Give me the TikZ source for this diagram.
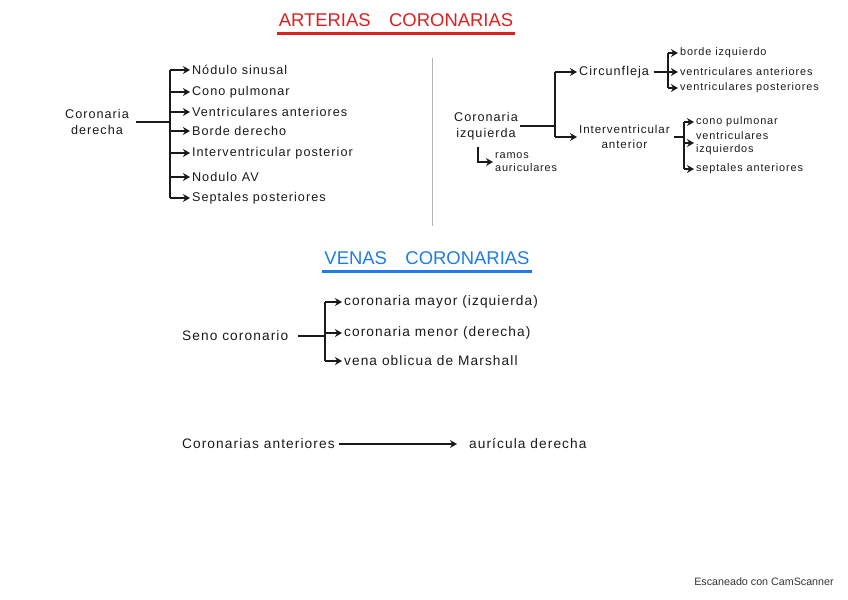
\documentclass[tikz,border=0pt]{standalone}
\usepackage{fontspec}
\setmainfont[LetterSpace=8]{Liberation Sans}
\newfontfamily\plainfont{Liberation Sans}
\usetikzlibrary{positioning,arrows.meta}
\definecolor{titlered}{HTML}{DC1F1F}
\definecolor{titleblue}{HTML}{1F7BE6}
\definecolor{inkblack}{HTML}{1A1A1A}
\definecolor{divgray}{HTML}{B4B4B4}
\definecolor{scangray}{HTML}{333333}

\begin{document}
\begin{tikzpicture}[x=0.02cm, y=-0.02cm,
    every node/.style={font=\fontsize{7.2}{9}\selectfont, text=inkblack, inner sep=1pt},
    leaf/.style={anchor=west},
    small/.style={font=\fontsize{6.2}{7.2}\selectfont, anchor=west},
    vein/.style={font=\fontsize{7.8}{9.5}\selectfont, anchor=west},
    stack/.style={align=center},
    titletxt/.style={font=\plainfont\fontsize{10.5}{13}\selectfont},
    branch/.style={draw=inkblack, line width=1.4pt},
    arr/.style={branch, -{Stealth[length=4pt,width=4.5pt]}}
  ]
  \useasboundingbox (0,0) rectangle (848,599);

  % arterias
  \node[titletxt, text=titlered] (arttitle) at (396,20) {ARTERIAS\quad CORONARIAS};
  \draw[titlered, line width=1.5pt]
    ([yshift=-0.1cm]arttitle.south west) -- ([yshift=-0.1cm]arttitle.south east);
  \draw[divgray, thin] (432,58) -- (432,226);

  % coronaria derecha
  \node[stack] (cder) at (97,122) {Coronaria\\derecha};
  \coordinate (cderbar) at (170,122);
  \node[leaf] (d1) at (190,70) {Nódulo sinusal};
  \node[leaf] (d2) at (190,92) {Cono pulmonar};
  \node[leaf] (d3) at (190,112) {Ventriculares anteriores};
  \node[leaf] (d4) at (190,131) {Borde derecho};
  \node[leaf] (d5) at (190,153) {Interventricular posterior};
  \node[leaf] (d6) at (190,177) {Nodulo AV};
  \node[leaf] (d7) at (190,198) {Septales posteriores};
  \draw[branch] ([xshift=0.1cm]cder.east) -- (cderbar |- cder.east);
  \draw[branch] (cderbar |- d1.west) -- (cderbar |- d7.west);
  \draw[arr] (cderbar |- d1.west) -- (d1.west);
  \draw[arr] (cderbar |- d2.west) -- (d2.west);
  \draw[arr] (cderbar |- d3.west) -- (d3.west);
  \draw[arr] (cderbar |- d4.west) -- (d4.west);
  \draw[arr] (cderbar |- d5.west) -- (d5.west);
  \draw[arr] (cderbar |- d6.west) -- (d6.west);
  \draw[arr] (cderbar |- d7.west) -- (d7.west);

  % coronaria izquierda
  \node[stack] (cizq) at (486,126) {Coronaria\\izquierda};
  \coordinate (cizqbar) at (555,124);
  \node[leaf] (circ) at (577,72) {Circunfleja};
  \node[leaf, align=center, font=\fontsize{6.6}{8.4}\selectfont] (iva) at (577,137) {Interventricular\\anterior};
  \draw[branch] (cizq.east) -- (cizqbar |- cizq.east);
  \draw[branch] (cizqbar |- circ.west) -- (cizqbar |- iva.west);
  \draw[arr] (cizqbar |- circ.west) -- (circ.west);
  \draw[arr] (cizqbar |- iva.west) -- (iva.west);
  \node[small, align=left] (ramos) at (493,162) {ramos\\auriculares};
  \draw[arr] ([xshift=-0.16cm, yshift=-0.1cm]cizq.south) |- (ramos.west);

  % circunfleja
  \coordinate (circbar) at (668,72);
  \node[small] (c1) at (678,53) {borde izquierdo};
  \node[small] (c2) at (678,72) {ventriculares anteriores};
  \node[small] (c3) at (678,88) {ventriculares posteriores};
  \draw[branch] ([xshift=0.05cm]circ.east) -- (circbar);
  \draw[branch] (circbar |- c1.west) -- (circbar |- c3.west);
  \draw[arr] (circbar |- c1.west) -- (c1.west);
  \draw[arr] (circbar |- c2.west) -- (c2.west);
  \draw[arr] (circbar |- c3.west) -- (c3.west);

  % interventricular anterior
  \coordinate (ivabar) at (684,140);
  \node[small] (a1) at (694,122) {cono pulmonar};
  \node[small, align=left] (a2) at (694,143) {ventriculares\\izquierdos};
  \node[small] (a3) at (694,169) {septales anteriores};
  \draw[branch] ([xshift=0.04cm]iva.east) -- (ivabar |- iva.east);
  \draw[branch] (ivabar |- a1.west) -- (ivabar |- a3.west);
  \draw[arr] (ivabar |- a1.west) -- (a1.west);
  \draw[arr] (ivabar |- a2.west) -- (a2.west);
  \draw[arr] (ivabar |- a3.west) -- (a3.west);

  % venas
  \node[titletxt, text=titleblue] (ventitle) at (427,258) {VENAS\quad CORONARIAS};
  \draw[titleblue, line width=1.5pt]
    ([yshift=-0.1cm]ventitle.south west) -- ([yshift=-0.1cm]ventitle.south east);

  \node[vein] (seno) at (180,336) {Seno coronario};
  \coordinate (senobar) at (325,334);
  \node[vein] (v1) at (342,302) {coronaria mayor (izquierda)};
  \node[vein] (v2) at (342,333) {coronaria menor (derecha)};
  \node[vein] (v3) at (342,361) {vena oblicua de Marshall};
  \draw[branch] ([xshift=0.15cm]seno.east) -- (senobar |- seno.east);
  \draw[branch] (senobar |- v1.west) -- (senobar |- v3.west);
  \draw[arr] (senobar |- v1.west) -- (v1.west);
  \draw[arr] (senobar |- v2.west) -- (v2.west);
  \draw[arr] (senobar |- v3.west) -- (v3.west);

  \node[vein] (cant) at (180,444) {Coronarias anteriores};
  \node[vein] (aur) at (467,444) {aurícula derecha};
  \draw[arr, shorten <=0.05cm, shorten >=0.2cm] (cant) -- (aur);

  \node[font=\plainfont\fontsize{6.1}{8}\selectfont, text=scangray] (scan) at (764,582) {Escaneado con CamScanner};
\end{tikzpicture}
\end{document}
